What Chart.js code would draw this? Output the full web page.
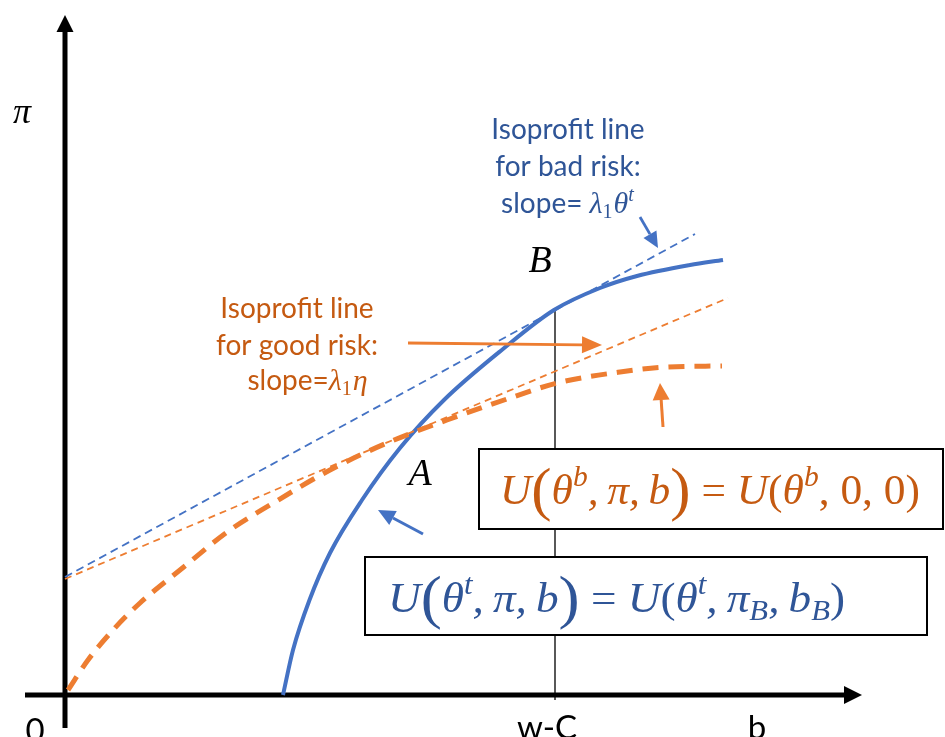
<!DOCTYPE html>
<html><head><meta charset="utf-8">
<script src="https://cdn.jsdelivr.net/npm/chart.js@4.4.1/dist/chart.umd.min.js"></script>
<style>html,body{margin:0;padding:0;background:#fff;overflow:hidden}#wrap{width:945px;height:737px;position:relative}</style>
</head><body><div id="wrap"><canvas id="c"></canvas></div>
<script>
// ---- data (b on x, pi on y) ----
const badRiskB   = [21.8, 22.8, 24.45, 26.5, 29.7, 33.5, 37.9, 43.8, 48.9, 53.5, 57.2, 62.5, 65.8];
const badRiskPi  = [0.0, 4.5, 9.5, 14.2, 19.5, 24.7, 29.5, 34.6, 38.5, 40.7, 41.9, 43.0, 43.5];
const goodRiskB  = [0.3, 2.3, 4.8, 7.5, 11.5, 16.5, 20.5, 26.5, 32.2, 38.2, 44.8, 49.2, 55.5, 60.2, 65.7];
const goodRiskPi = [0.5, 3.5, 6.5, 9.2, 12.5, 16.5, 19.0, 22.5, 25.2, 27.5, 29.8, 31.2, 32.3, 32.8, 32.9];
const isoBadB    = [0, 63];
const isoBadPi   = [11.8, 46.1];
const isoGoodB   = [0, 66.3];
const isoGoodPi  = [11.6, 39.7];
const wcB        = [49.0, 49.0];
const wcPi       = [38.5, -0.5];
const xTickLabels = ['0', 'w-C', 'b'];

const pts = (xs, ys) => xs.map((x, i) => ({x, y: ys[i]}));
const BLUE = '#4472C4', ORANGE = '#ED7D31', BLUE_T = '#2F5597', ORANGE_T = '#C55A11';
const SANS = 'Lato, "Open Sans", sans-serif';
const SERIF = '"Liberation Serif", "DejaVu Serif", serif';

function arrow(ctx, x1, y1, x2, y2, color, w, hl, hw) {
  const a = Math.atan2(y2 - y1, x2 - x1);
  const bx = x2 - hl * Math.cos(a), by = y2 - hl * Math.sin(a);
  ctx.save();
  ctx.strokeStyle = color; ctx.fillStyle = color; ctx.lineWidth = w; ctx.setLineDash([]);
  ctx.beginPath(); ctx.moveTo(x1, y1); ctx.lineTo(bx, by); ctx.stroke();
  ctx.beginPath(); ctx.moveTo(x2, y2);
  ctx.lineTo(bx + hw * Math.sin(a), by - hw * Math.cos(a));
  ctx.lineTo(bx - hw * Math.sin(a), by + hw * Math.cos(a));
  ctx.closePath(); ctx.fill();
  ctx.restore();
}

function fontFor(style, size) {
  if (style === 'i') return 'italic ' + size + 'px ' + SERIF;
  return size + 'px ' + SERIF;
}
function drawMath(ctx, parts, x, y, size, color, targetW) {
  ctx.save();
  const items = parts.map(([t, st, pos]) => {
    let s = size;
    if (pos !== 0) s = size * 0.68;
    if (st === 'big') s = size * 1.4;
    ctx.font = fontFor(st === 'big' ? 'r' : st, s);
    return {t, st, pos, s, w: ctx.measureText(t).width};
  });
  const total = items.reduce((a, b) => a + b.w, 0);
  const sx = targetW / total;
  ctx.translate(x, y); ctx.scale(sx, 1);
  ctx.fillStyle = color; ctx.textBaseline = 'alphabetic'; ctx.textAlign = 'left';
  let cx = 0;
  items.forEach(it => {
    ctx.font = fontFor(it.st === 'big' ? 'r' : it.st, it.s);
    let dy = 0;
    if (it.pos === 1) dy = -size * 0.42;
    if (it.pos === -1) dy = size * 0.18;
    if (it.st === 'big') dy = size * 0.11;
    ctx.fillText(it.t, cx, dy);
    cx += it.w;
  });
  ctx.restore();
}

// slope label: plain text + lambda_1 + symbol (+ optional superscript), centred at cx
function slopeLabel(ctx, prefix, sym, sup, cx, y, color) {
  const parts = [
    {t: prefix, f: '28px ' + SANS, dy: 0},
    {t: '\u03BB', f: 'italic 30px ' + SERIF, dy: 0},
    {t: '1', f: '20px ' + SERIF, dy: 5},
    {t: sym, f: 'italic 30px ' + SERIF, dy: 0}
  ];
  if (sup) parts.push({t: sup, f: 'italic 20px ' + SERIF, dy: -12});
  let total = 0;
  parts.forEach(p => { ctx.font = p.f; p.w = ctx.measureText(p.t).width; total += p.w; });
  let x = cx - total / 2;
  ctx.save(); ctx.fillStyle = color; ctx.textAlign = 'left';
  parts.forEach(p => { ctx.font = p.f; ctx.fillText(p.t, x, y + p.dy); x += p.w + (p.t === '1' ? 1 : 0); });
  ctx.restore();
}

const deco = {
  id: 'deco',
  beforeDatasetsDraw(chart) {
    const ctx = chart.ctx, X = chart.scales.x, Y = chart.scales.y;
    const ox = X.getPixelForValue(0), oy = Y.getPixelForValue(0);
    arrow(ctx, ox, Y.getPixelForValue(-3.3), ox, Y.getPixelForValue(68.0), '#000', 5, 17, 8.5);
    arrow(ctx, X.getPixelForValue(-4.0), oy, X.getPixelForValue(79.7), oy, '#000', 5, 18, 9);
  },
  afterDatasetsDraw(chart) {
    const ctx = chart.ctx, X = chart.scales.x;
    ctx.save();
    ctx.textBaseline = 'alphabetic';
    // tick labels
    ctx.fillStyle = '#000'; ctx.font = '33px ' + SANS; ctx.textAlign = 'center';
    ctx.fillText(xTickLabels[0], 35, 742);
    ctx.fillText(xTickLabels[1], X.getPixelForValue(wcB[0]) - 8, 739);
    ctx.fillText(xTickLabels[2], 757, 739);
    // axis label pi, points A and B
    ctx.font = 'italic 36px ' + SERIF;
    ctx.fillText('\u03C0', 22, 123);
    ctx.font = 'italic 38px ' + SERIF;
    ctx.fillText('B', 540, 272);
    ctx.fillText('A', 420, 485);
    // blue annotation text
    ctx.fillStyle = BLUE_T; ctx.font = '28px ' + SANS;
    ctx.fillText('Isoprofit line', 568, 139);
    ctx.fillText('for bad risk:', 568, 176);
    slopeLabel(ctx, 'slope= ', '\u03B8', 't', 567, 213, BLUE_T);
    // orange annotation text
    ctx.fillStyle = ORANGE_T; ctx.font = '28px ' + SANS; ctx.textAlign = 'center';
    ctx.fillText('Isoprofit line', 297, 318);
    ctx.fillText('for good risk:', 297, 355);
    slopeLabel(ctx, 'slope=', '\u03B7', null, 307, 390, ORANGE_T);
    // arrows
    arrow(ctx, 640, 217, 658, 248, BLUE, 2.8, 16, 7.5);
    arrow(ctx, 408, 343, 602, 345, ORANGE, 2.8, 20, 8.5);
    arrow(ctx, 663, 427, 660, 383, ORANGE, 3, 17, 8.5);
    arrow(ctx, 423, 534, 378, 510, BLUE, 3, 17, 8);
    // boxes
    ctx.lineWidth = 2; ctx.strokeStyle = '#000'; ctx.fillStyle = '#fff';
    ctx.fillRect(479, 449, 464, 80); ctx.strokeRect(479, 449, 464, 80);
    ctx.fillRect(365, 557, 562, 78); ctx.strokeRect(365, 557, 562, 78);
    const thin = '\u2009';
    drawMath(ctx, [['U','i',0],['(','big',0],['\u03B8','i',0],['b','i',1],[','+thin,'i',0],['\u03C0','i',0],[','+thin,'i',0],['b','i',0],[')','big',0],[' = ','r',0],['U','i',0],['(','r',0],['\u03B8','i',0],['b','i',1],[', 0, 0)','r',0]],
      500, 504, 42, ORANGE_T, 420);
    drawMath(ctx, [['U','i',0],['(','big',0],['\u03B8','i',0],['t','i',1],[','+thin,'i',0],['\u03C0','i',0],[','+thin,'i',0],['b','i',0],[')','big',0],[' = ','r',0],['U','i',0],['(','r',0],['\u03B8','i',0],['t','i',1],[','+thin,'i',0],['\u03C0','i',0],['B','i',-1],[','+thin,'i',0],['b','i',0],['B','i',-1],[')','r',0]],
      388, 612, 42, BLUE_T, 457);
    ctx.restore();
  }
};

new Chart(document.getElementById('c'), {
  type: 'line',
  data: {
    datasets: [
      {data: pts(isoBadB, isoBadPi), borderColor: BLUE, borderWidth: 1.8, borderDash: [8, 5], pointRadius: 0, tension: 0},
      {data: pts(isoGoodB, isoGoodPi), borderColor: ORANGE, borderWidth: 1.8, borderDash: [7, 5], pointRadius: 0, tension: 0},
      {data: pts(goodRiskB, goodRiskPi), borderColor: ORANGE, borderWidth: 5, borderDash: [16, 10], pointRadius: 0, cubicInterpolationMode: 'monotone'},
      {data: pts(badRiskB, badRiskPi), borderColor: BLUE, borderWidth: 4, pointRadius: 0, cubicInterpolationMode: 'monotone'},
      {data: pts(wcB, wcPi), borderColor: '#000', borderWidth: 1.3, pointRadius: 0, tension: 0}
    ]
  },
  options: {
    responsive: true, maintainAspectRatio: false, animation: false, events: [],
    layout: {padding: 0},
    plugins: {legend: {display: false}, tooltip: {enabled: false}},
    scales: {
      x: {type: 'linear', min: -6.5, max: 88, display: false},
      y: {type: 'linear', min: -4.2, max: 69.5, display: false}
    }
  },
  plugins: [deco]
});
</script></body></html>
